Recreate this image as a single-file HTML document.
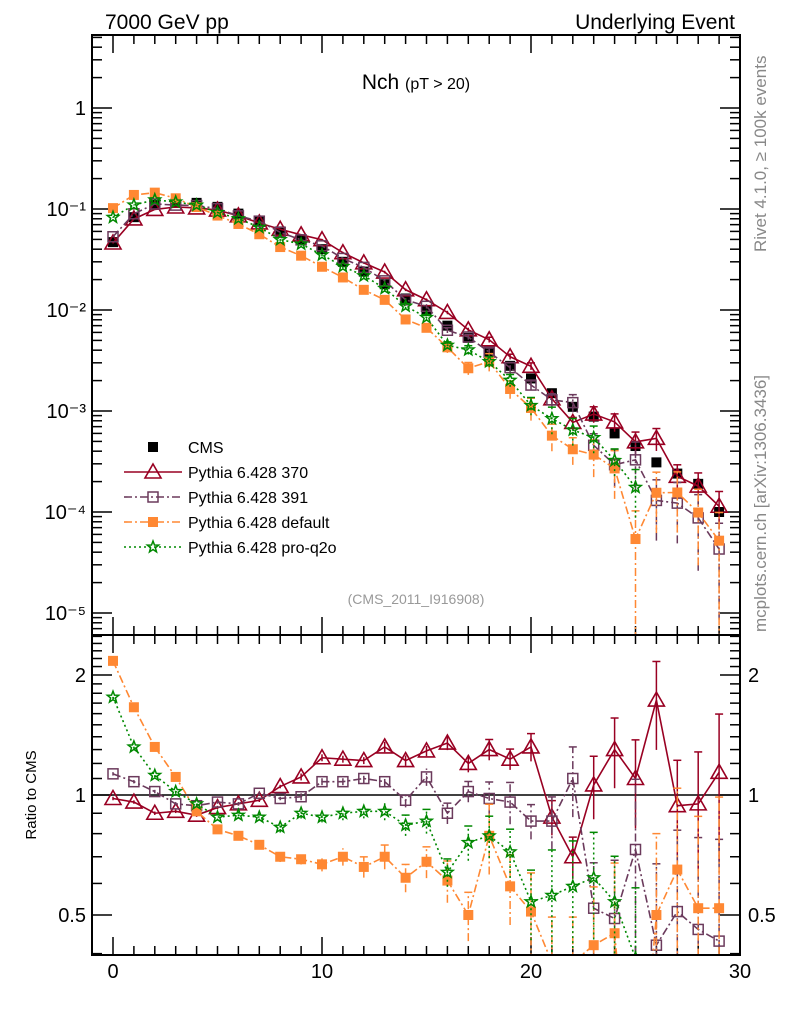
<!DOCTYPE html>
<html><head><meta charset="utf-8"><style>
html,body{margin:0;padding:0;background:#fff;overflow:hidden;width:786px;height:1024px;position:relative}
svg{display:block;position:absolute;left:0;top:0;font-family:"Liberation Sans",sans-serif;overflow:hidden}
</style></head><body>
<svg id="c" width="786" height="1024" viewBox="0 0 786 1024" xmlns="http://www.w3.org/2000/svg">
<defs>
<clipPath id="cm"><rect x="92" y="35" width="648" height="600"/></clipPath>
<clipPath id="cr"><rect x="92" y="635" width="648" height="320"/></clipPath>
</defs>
<text x="105" y="29" font-size="21">7000 GeV pp</text>
<text x="735" y="29" font-size="21" text-anchor="end">Underlying Event</text>
<text x="416" y="89" font-size="21" text-anchor="middle">Nch <tspan font-size="16">(pT &gt; 20)</tspan></text>
<text transform="translate(766,252) rotate(-90)" font-size="17" fill="#888">Rivet 4.1.0, ≥ 100k events</text>
<text transform="translate(766,632) rotate(-90)" font-size="17" fill="#888">mcplots.cern.ch [arXiv:1306.3436]</text>
<text x="416" y="604" font-size="14" fill="#999" text-anchor="middle">(CMS_2011_I916908)</text>
<text transform="translate(36,795) rotate(-90)" font-size="15" text-anchor="middle">Ratio to CMS</text>
<g id="g"></g>
</svg>
<script>
const xs=[...Array(30).keys()];
const cms=[0.047,0.083,0.11,0.115,0.115,0.105,0.09,0.075,0.06,0.05,0.04,0.03,0.024,0.018,0.013,0.0098,0.007,0.0053,0.0039,0.0028,0.0021,0.0015,0.0011,0.00088,0.0006,0.00045,0.00031,0.00024,0.00019,0.0001];
const r370=[0.98,0.96,0.90,0.91,0.89,0.93,0.95,0.97,1.05,1.11,1.24,1.23,1.22,1.32,1.22,1.29,1.35,1.20,1.30,1.23,1.32,0.88,0.70,1.06,1.30,1.10,1.73,0.94,0.95,1.14];
const r391=[1.13,1.08,1.02,0.95,0.94,0.96,0.95,1.01,0.98,0.99,1.08,1.08,1.10,1.08,0.97,1.11,0.90,1.02,0.98,0.96,0.86,0.86,1.10,0.52,0.49,0.73,0.42,0.51,0.46,0.43];
const rdef=[2.17,1.66,1.32,1.11,0.91,0.82,0.79,0.75,0.70,0.69,0.67,0.70,0.66,0.70,0.62,0.68,0.61,0.50,0.79,0.59,0.51,0.38,0.38,0.42,0.45,0.12,0.50,0.65,0.52,0.52];
const rq2o=[1.76,1.32,1.12,1.02,0.95,0.88,0.89,0.88,0.83,0.90,0.88,0.90,0.91,0.91,0.84,0.86,0.64,0.76,0.79,0.72,0.54,0.56,0.59,0.62,0.54,0.39];
const e370=[0.01,0.01,0.01,0.01,0.01,0.01,0.01,0.01,0.01,0.02,0.02,0.02,0.02,0.03,0.03,0.03,0.04,0.05,0.06,0.06,0.08,0.1,0.12,0.18,0.2,0.25,0.25,0.3,0.35,0.4];
const e391=[0.01,0.01,0.01,0.01,0.01,0.01,0.01,0.01,0.01,0.02,0.02,0.02,0.03,0.03,0.04,0.05,0.06,0.06,0.1,0.12,0.1,0.15,0.2,0.3,0.4,0.5,0.6,0.6,0.7,0.8];
const edef=[0.01,0.01,0.01,0.01,0.01,0.01,0.02,0.02,0.03,0.03,0.04,0.05,0.06,0.07,0.08,0.09,0.12,0.14,0.2,0.2,0.25,0.3,0.3,0.4,0.5,0.9,0.6,0.6,0.7,0.9];
const eq2o=[0.01,0.01,0.01,0.01,0.01,0.02,0.02,0.02,0.03,0.03,0.03,0.04,0.04,0.05,0.06,0.07,0.08,0.1,0.12,0.14,0.2,0.3,0.3,0.3,0.3,0.5];
const logTicks=['1','10⁻¹','10⁻²','10⁻³','10⁻⁴','10⁻⁵'];
const ratioTicks=[2,1,0.5];
const xTicks=[0,10,20,30];

const NS='http://www.w3.org/2000/svg';
const G=document.getElementById('g');
const X=v=>113+20.9*v;
const YM=v=>108-101*Math.log10(v);
const YR=r=>795-120*Math.log2(r);
function el(t,a,p){const e=document.createElementNS(NS,t);for(const k in a)e.setAttribute(k,a[k]);(p||G).appendChild(e);return e;}

const tk=el('g',{stroke:'#000','stroke-width':1.5});


for(let v=-1;v<=30;v++){const big=v%10==0;const L=big?18:9;
  const x=X(v);if(x<92||x>740)continue;
  el('line',{x1:x,x2:x,y1:635,y2:635-L},tk);el('line',{x1:x,x2:x,y1:35,y2:35+L},tk);
  el('line',{x1:x,x2:x,y1:955,y2:955-L},tk);el('line',{x1:x,x2:x,y1:635,y2:635+L},tk);}
for(let d=-6;d<=0;d++)for(let m=1;m<10;m++){const y=YM(m*Math.pow(10,d));if(y<35||y>635)continue;const L=m==1?20:10;
  el('line',{x1:92,x2:92+L,y1:y,y2:y},tk);el('line',{x1:740,x2:740-L,y1:y,y2:y},tk);}
for(let i=4;i<=25;i++){const r=i/10;const y=YR(r);if(y<635||y>955)continue;const L=(i==5||i==10||i==20)?20:10;
  el('line',{x1:92,x2:92+L,y1:y,y2:y},tk);el('line',{x1:740,x2:740-L,y1:y,y2:y},tk);}
logTicks.forEach((s,i)=>{const t=el('text',{x:86,y:YM(Math.pow(10,-i))+7,'font-size':20,'text-anchor':'end'});t.textContent=s;
  });
ratioTicks.forEach(r=>{[[86,'end'],[748,'start']].forEach(([x,a])=>{const t=el('text',{x:x,y:YR(r)+7,'font-size':20,'text-anchor':a});t.textContent=r;
  });});
xTicks.forEach(v=>{const t=el('text',{x:X(v),y:978,'font-size':20,'text-anchor':'middle'});t.textContent=v;
  });
const ref=el('line',{x1:92,x2:740,y1:YR(1),y2:YR(1),stroke:'#000','stroke-width':1.5});


function marker(p,type,col,x,y){
  if(type=='sq')el('rect',{x:x-5,y:y-5,width:10,height:10,fill:col},p);
  else if(type=='osq')el('rect',{x:x-5,y:y-5,width:10,height:10,fill:'none',stroke:col,'stroke-width':1.5},p);
  else if(type=='tri')el('path',{d:`M${x},${y-8}L${x+8},${y+6}L${x-8},${y+6}Z`,fill:'none',stroke:col,'stroke-width':1.6},p);
  else if(type=='star'){let d='';for(let k=0;k<10;k++){const a=-Math.PI/2+k*Math.PI/5,rr=k%2?2.5:6;d+=(k?'L':'M')+(x+rr*Math.cos(a)).toFixed(1)+','+(y+rr*Math.sin(a)).toFixed(1);}
    el('path',{d:d+'Z',fill:'none',stroke:col,'stroke-width':1.5},p);}
}
const series=[
 {n:'pythia-370',r:r370,e:e370,c:'#990022',m:'tri',da:''},
 {n:'pythia-391',r:r391,e:e391,c:'#6b3a5c',m:'osq',da:'8,3,2,3'},
 {n:'pythia-default',r:rdef,e:edef,c:'#ff8833',m:'sq',da:'8,3,2,3'},
 {n:'pythia-pro-q2o',r:rq2o,e:eq2o,c:'#008800',m:'star',da:'2,3'}];
function draw(clip,Yf,valf,isMain){
  series.forEach(s=>{const g=el('g',{'clip-path':`url(#${clip})`});
    
    
    const pts=s.r.map((r,i)=>[X(xs[i]),Yf(valf(r,i))]);
    el('polyline',{points:pts.map(p=>p.join(',')).join(' '),fill:'none',stroke:s.c,'stroke-width':1.6,'stroke-dasharray':s.da},g);
    s.r.forEach((r,i)=>{const v=valf(r,i),e=s.e[i];const lo=Math.max(v*(1-e),v*0.01),hi=v*(1+e);
      el('line',{x1:pts[i][0],x2:pts[i][0],y1:Yf(lo),y2:Yf(hi),stroke:s.c,'stroke-width':1.5,'stroke-dasharray':s.da},g);
      if(e>0.05){el('line',{x1:pts[i][0]-4,x2:pts[i][0]+4,y1:Yf(hi),y2:Yf(hi),stroke:s.c,'stroke-width':1.5},g);}
      marker(g,s.m,s.c,pts[i][0],pts[i][1]);});
  });
}
const cg=el('g',{'clip-path':'url(#cm)'});

cms.forEach((v,i)=>marker(cg,'sq','#000',X(xs[i]),YM(v)));
draw('cm',YM,(r,i)=>r*cms[i],true);
draw('cr',YR,r=>r,false);

const fr=el('g',{fill:'none',stroke:'#000','stroke-width':2});

el('rect',{x:92,y:35,width:648,height:600},fr);el('rect',{x:92,y:635,width:648,height:320},fr);

const lg=el('g',{});

const labels=['CMS','Pythia 6.428 370','Pythia 6.428 391','Pythia 6.428 default','Pythia 6.428 pro-q2o'];
labels.forEach((l,i)=>{const y=447+25*i;
  if(i==0)marker(lg,'sq','#000',153,y);
  else{const s=series[i-1];el('line',{x1:124,x2:182,y1:y,y2:y,stroke:s.c,'stroke-width':1.6,'stroke-dasharray':s.da},lg);marker(lg,s.m,s.c,153,y);}
  const t=el('text',{x:188,y:y+6,'font-size':16},lg);t.textContent=l;
  });
</script>
</body></html>
